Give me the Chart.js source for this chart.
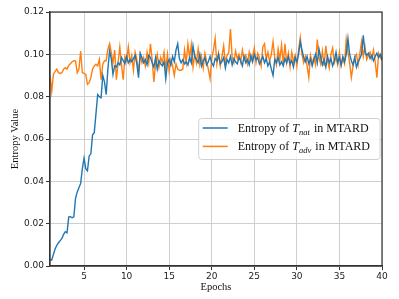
<!DOCTYPE html>
<html>
<head>
<meta charset="utf-8">
<script src="https://cdn.jsdelivr.net/npm/chart.js@4.4.0/dist/chart.umd.min.js"></script>
<style>
  html, body { margin: 0; padding: 0; background: #fff; }
  #entropyChart { display: block; }
</style>
</head>
<body>
<canvas id="entropyChart" width="399" height="299"></canvas>
<script>
// ========== DATA ==========
// one value every 0.2 epoch, epoch 1 .. 40
const natEntropy = [
  0.0031, 0.0028, 0.0055, 0.0080, 0.0098, 0.0110, 0.0120, 0.0130, 0.0150, 0.0162,
  0.0157, 0.0232, 0.0233, 0.0228, 0.0232, 0.0320, 0.0350, 0.0370, 0.0390, 0.0460,
  0.0510, 0.0460, 0.0450, 0.0520, 0.0530, 0.0620, 0.0630, 0.0720, 0.0810, 0.0800,
  0.0795, 0.0900, 0.0870, 0.0810, 0.0930, 0.1016, 0.0980, 0.0905, 0.0945, 0.0940,
  0.0960,
  0.0950, 0.0985, 0.0970, 0.0955, 0.0990,
  0.0960, 0.0975, 0.0965, 0.0980, 0.0995,
  0.0955, 0.0890, 0.1005, 0.0985, 0.0960,
  0.0975, 0.0950, 0.0995, 0.0985, 0.0960,
  0.0940, 0.0985, 0.0930, 0.0970, 0.0955,
  0.0945, 0.0965, 0.0885, 0.0960, 0.0975,
  0.0950, 0.0990, 0.0965, 0.1020, 0.1050,
  0.0980, 0.0960, 0.0975, 0.0955, 0.0965,
  0.0950, 0.0985, 0.0960, 0.1040, 0.0990,
  0.0975, 0.0960, 0.1000, 0.0945, 0.0970,
  0.0985, 0.0950, 0.0965, 0.0990, 0.0960,
  0.0945, 0.0980, 0.0970, 0.1000, 0.0955,
  0.0965, 0.0985, 0.0935, 0.0975, 0.0960,
  0.0990, 0.0950, 0.0980, 0.0965, 0.0955,
  0.0985, 0.0970, 0.0945, 0.0990, 0.0960,
  0.0975, 0.0950, 0.0995, 0.0965, 0.1000,
  0.0975, 0.0985, 0.0955, 0.0970, 0.0990,
  0.0960, 0.0980, 0.0945, 0.0965, 0.0930,
  0.0900, 0.0975, 0.0960, 0.0985, 0.0950,
  0.0965, 0.0945, 0.0980, 0.0960, 0.0990,
  0.0955, 0.0970, 0.0940, 0.0985, 0.0965,
  0.1000, 0.1060, 0.1020, 0.0985, 0.0965,
  0.0990, 0.0955, 0.0980, 0.0945, 0.0975,
  0.1000, 0.0960, 0.1025, 0.0985, 0.0950,
  0.0975, 0.0940, 0.0990, 0.0960, 0.0980,
  0.0945, 0.0970, 0.1010, 0.0960, 0.0985,
  0.0950, 0.0990, 0.0965, 0.1000, 0.1075,
  0.1000, 0.0970, 0.0950, 0.0985, 0.0940,
  0.0965, 0.0980, 0.1000, 0.1090, 0.1010,
  0.0995, 0.1005, 0.0980, 0.0995, 0.0970,
  0.0990, 0.1005, 0.0985, 0.1000, 0.0975
];
const advEntropy = [
  0.0900, 0.0825, 0.0905, 0.0920, 0.0930, 0.0913, 0.0910, 0.0913, 0.0930, 0.0937,
  0.0930, 0.0948, 0.0956, 0.0965, 0.0970, 0.0969, 0.0913, 0.0930, 0.1016, 0.0913,
  0.0910, 0.0905, 0.0858, 0.0866, 0.0890, 0.0930, 0.0945, 0.0953, 0.0945, 0.0976,
  0.0880, 0.0953, 0.0970, 0.0970, 0.1024, 0.1050, 0.1008, 0.0960, 0.1020, 0.0880,
  0.0960,
  0.1035, 0.0950, 0.0880, 0.0990, 0.0970,
  0.1035, 0.0960, 0.0995, 0.0925, 0.1010,
  0.0975, 0.0920, 0.1000, 0.0960, 0.0985,
  0.0945, 0.1010, 0.0960, 0.1050, 0.0975,
  0.0870, 0.0955, 0.1000, 0.0940, 0.0985,
  0.0960, 0.1010, 0.0935, 0.1000, 0.0920,
  0.0975, 0.0945, 0.0900, 0.0955, 0.0930,
  0.0925, 0.0925, 0.0930, 0.1020, 0.0960,
  0.1050, 0.0985, 0.1045, 0.0940, 0.1000,
  0.0960, 0.1025, 0.0950, 0.0990, 0.0935,
  0.1005, 0.0965, 0.0930, 0.0885, 0.0980,
  0.1020, 0.1075, 0.0955, 0.1005, 0.0945,
  0.0990, 0.1040, 0.0960, 0.0995, 0.1010,
  0.1120, 0.0985, 0.0960, 0.1015, 0.0980,
  0.1000, 0.0965, 0.1020, 0.0975, 0.0995,
  0.0955, 0.1010, 0.0970, 0.0990, 0.1030,
  0.0960, 0.1005, 0.0985, 0.0945, 0.1035,
  0.1050, 0.0975, 0.1010, 0.0965, 0.1000,
  0.1060, 0.0985, 0.0950, 0.1025, 0.0975,
  0.1045, 0.0955, 0.1050, 0.0960, 0.1005,
  0.0940, 0.1010, 0.0965, 0.0995, 0.0945,
  0.1020, 0.1080, 0.1000, 0.0960, 0.0990,
  0.0945, 0.0890, 0.0995, 0.0960, 0.0985,
  0.0950, 0.1070, 0.0985, 0.0955, 0.1015,
  0.0945, 0.1040, 0.0970, 0.0935, 0.1000,
  0.1030, 0.0960, 0.0985, 0.0950, 0.1010,
  0.0945, 0.0980, 0.0955, 0.1070, 0.1010,
  0.0960, 0.0890, 0.0945, 0.0985, 0.1000,
  0.0950, 0.1005, 0.1060, 0.0990, 0.1035,
  0.0975, 0.0995, 0.1010, 0.0980, 0.1020,
  0.0965, 0.0890, 0.1005, 0.0985, 0.0970
];
const epochStart = 1;
const epochStep = 0.2;
const xTicks = [5, 10, 15, 20, 25, 30, 35, 40];
const yTicks = [0, 0.02, 0.04, 0.06, 0.08, 0.10, 0.12];
// legend text split as: prefix, italic symbol, subscript, suffix
const legendParts = [
  ['Entropy of ', 'T', 'nat', ' in MTARD'],
  ['Entropy of ', 'T', 'adv', ' in MTARD']
];
const seriesColors = ['#1f77b4', '#ff7f0e'];

const epochs = natEntropy.map((_, i) => epochStart + i * epochStep);
const toPoints = arr => arr.map((v, i) => ({ x: epochs[i], y: v }));

// ========== PLUGINS ==========
const framePlugin = {
  id: 'frame',
  afterDatasetsDraw(chart) {
    const { ctx, chartArea: a } = chart;
    ctx.save();
    ctx.strokeStyle = '#333';
    ctx.lineWidth = 1.2;
    ctx.strokeRect(a.left, a.top, a.right - a.left, a.bottom - a.top);
    ctx.restore();
  }
};

const legendPlugin = {
  id: 'mplLegend',
  afterDraw(chart) {
    const { ctx, chartArea: a } = chart;
    const mainFont = '12px "Liberation Serif", "Times New Roman", serif';
    const symFont = 'italic 12px "Liberation Serif", "Times New Roman", serif';
    const subFont = 'italic 8.5px "Liberation Serif", "Times New Roman", serif';

    ctx.save();
    // measure widest row
    const rowWidth = parts => {
      ctx.font = mainFont; let w = ctx.measureText(parts[0]).width + ctx.measureText(parts[3]).width;
      ctx.font = symFont; w += ctx.measureText(parts[1]).width;
      ctx.font = subFont; w += ctx.measureText(parts[2]).width + 1;
      return w;
    };
    const textW = Math.max(...legendParts.map(rowWidth));
    const handle = 25, gap = 10, pad = 4, rowH = 18.4;
    const bw = pad + handle + gap + textW + 10;
    const bh = 41;
    const bx = a.right - 2 - bw;
    const by = (a.top + a.bottom) / 2 - bh / 2;

    ctx.fillStyle = 'rgba(255,255,255,0.85)';
    ctx.strokeStyle = '#d0d0d0';
    ctx.lineWidth = 1;
    ctx.beginPath();
    ctx.roundRect(bx, by, bw, bh, 3);
    ctx.fill();
    ctx.stroke();

    legendParts.forEach((parts, i) => {
      const cy = by + 9.5 + i * rowH;
      ctx.strokeStyle = seriesColors[i];
      ctx.lineWidth = 1.5;
      ctx.beginPath();
      ctx.moveTo(bx + pad, cy);
      ctx.lineTo(bx + pad + handle, cy);
      ctx.stroke();

      let tx = bx + pad + handle + gap;
      const base = cy + 4;
      ctx.fillStyle = '#111';
      ctx.textBaseline = 'alphabetic';
      ctx.font = mainFont; ctx.fillText(parts[0], tx, base); tx += ctx.measureText(parts[0]).width;
      ctx.font = symFont; ctx.fillText(parts[1], tx, base); tx += ctx.measureText(parts[1]).width;
      ctx.font = subFont; ctx.fillText(parts[2], tx, base + 2.5); tx += ctx.measureText(parts[2]).width + 1;
      ctx.font = mainFont; ctx.fillText(parts[3], tx, base);
    });
    ctx.restore();
  }
};

// ========== CHART ==========
const tickFont = { family: '"DejaVu Sans", sans-serif', size: 9 };
const titleFont = { family: '"Liberation Serif", "Times New Roman", serif', size: 10.5 };

new Chart(document.getElementById('entropyChart').getContext('2d'), {
  type: 'line',
  data: {
    datasets: [
      { label: 'nat', data: toPoints(natEntropy), borderColor: seriesColors[0], borderWidth: 1.4, pointRadius: 0, tension: 0, fill: false },
      { label: 'adv', data: toPoints(advEntropy), borderColor: seriesColors[1], borderWidth: 1.4, pointRadius: 0, tension: 0, fill: false }
    ]
  },
  options: {
    responsive: false,
    animation: false,
    layout: { padding: { top: 12, right: 17, bottom: 0, left: 0 } },
    plugins: { legend: { display: false }, tooltip: { enabled: false } },
    scales: {
      x: {
        type: 'linear',
        min: epochStart,
        max: 40,
        afterBuildTicks: scale => { scale.ticks = xTicks.map(v => ({ value: v })); },
        afterFit: scale => { scale.height = 33; },
        ticks: { font: tickFont, color: '#222', padding: 1, maxRotation: 0, callback: v => String(v) },
        grid: { color: '#cfcfcf', lineWidth: 1, tickLength: 4, tickColor: '#333' },
        border: { color: '#333', width: 1.2 },
        title: { display: true, text: 'Epochs', font: titleFont, color: '#111', padding: { top: 0, bottom: 5 } }
      },
      y: {
        min: 0,
        max: 0.12,
        afterBuildTicks: scale => { scale.ticks = yTicks.map(v => ({ value: v })); },
        afterFit: scale => { scale.width = 50; },
        ticks: { font: tickFont, color: '#222', padding: 2, callback: v => v.toFixed(2) },
        grid: { color: '#cfcfcf', lineWidth: 1, tickLength: 4, tickColor: '#333' },
        border: { color: '#333', width: 1.2 },
        title: { display: true, text: 'Entropy Value', font: titleFont, color: '#111', padding: { top: 9, bottom: 0 } }
      }
    }
  },
  plugins: [framePlugin, legendPlugin]
});
</script>
</body>
</html>
